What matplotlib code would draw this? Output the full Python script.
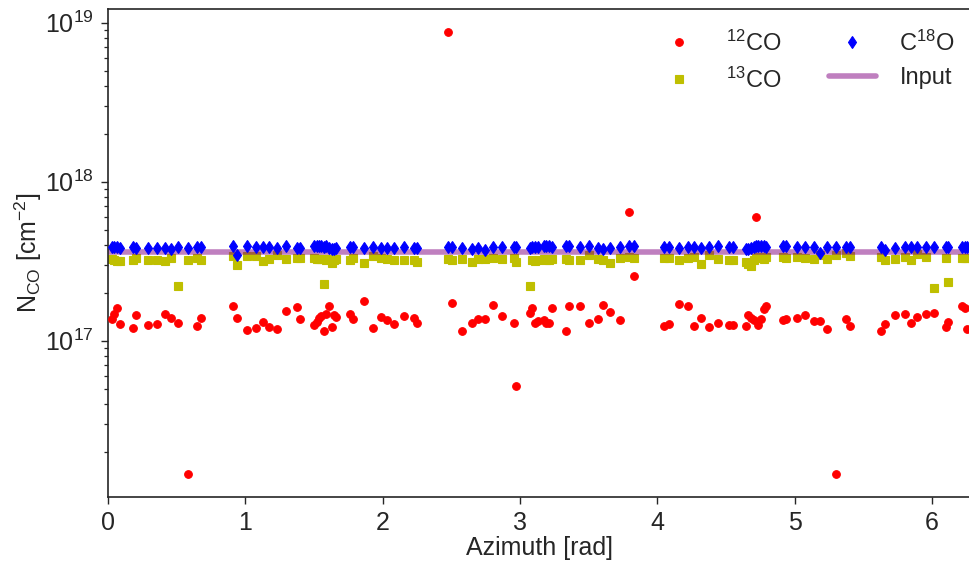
import numpy as np
import matplotlib
matplotlib.use("Agg")
import matplotlib.pyplot as plt
import seaborn as sns

sns.set_theme(style="ticks", context="talk")
plt.rcParams["font.family"] = ["Liberation Sans", "DejaVu Sans"]
plt.rcParams["mathtext.default"] = "regular"
plt.rcParams["axes.linewidth"] = 1.2
plt.rcParams["axes.edgecolor"] = "#262626"
for ax_ in ("xtick", "ytick"):
    plt.rcParams[f"{ax_}.major.size"] = 5
    plt.rcParams[f"{ax_}.minor.size"] = 3
    plt.rcParams[f"{ax_}.major.width"] = 1.0
    plt.rcParams[f"{ax_}.minor.width"] = 0.9
    plt.rcParams[f"{ax_}.labelsize"] = 18
    plt.rcParams[f"{ax_}.major.pad"] = 5

SCALE = 1e17  # values below are in units of 1e17 cm^-2

azimuth = [
    0.027, 0.044, 0.065, 0.087, 0.184, 0.206, 0.289, 0.354, 0.417, 0.458,
    0.507, 0.580, 0.650, 0.679, 0.907, 0.936, 1.009, 1.079, 1.125, 1.169,
    1.232, 1.295, 1.379, 1.396, 1.500, 1.518, 1.537, 1.554, 1.573, 1.590,
    1.610, 1.627, 1.646, 1.663, 1.760, 1.784, 1.864, 1.927, 1.990, 2.034,
    2.080, 2.153, 2.228, 2.252, 2.475, 2.505, 2.580, 2.652, 2.693, 2.742,
    2.802, 2.868, 2.953, 2.972, 3.069, 3.089, 3.108, 3.130, 3.173, 3.190,
    3.210, 3.234, 3.336, 3.353, 3.438, 3.500, 3.566, 3.607, 3.656, 3.724,
    3.796, 3.828, 4.051, 4.082, 4.155, 4.225, 4.269, 4.318, 4.378, 4.444,
    4.524, 4.548, 4.645, 4.662, 4.681, 4.700, 4.718, 4.735, 4.754, 4.773,
    4.790, 4.911, 4.936, 5.015, 5.072, 5.137, 5.185, 5.231, 5.299, 5.372,
    5.401, 5.631, 5.658, 5.729, 5.801, 5.845, 5.893, 5.954, 6.017, 6.104,
    6.119, 6.221, 6.237, 6.255,
]

co12 = [
    1.36, 1.47, 1.61, 1.27, 1.20, 1.46, 1.26, 1.27, 1.48, 1.39,
    1.30, 0.145, 1.24, 1.38, 1.66, 1.38, 1.17, 1.20, 1.31, 1.22,
    1.19, 1.54, 1.64, 1.37, 1.26, 1.32, 1.39, 1.42, 1.15, 1.48,
    1.65, 1.22, 1.46, 1.40, 1.48, 1.37, 1.78, 1.20, 1.40, 1.35,
    1.27, 1.44, 1.38, 1.29, 87.0, 1.72, 1.15, 1.30, 1.37, 1.36,
    1.68, 1.43, 1.30, 0.52, 1.49, 1.60, 1.30, 1.33, 1.35, 1.30,
    1.30, 1.60, 1.15, 1.66, 1.66, 1.30, 1.37, 1.68, 1.52, 1.34,
    6.45, 2.55, 1.24, 1.27, 1.70, 1.66, 1.24, 1.39, 1.22, 1.30,
    1.26, 1.26, 1.23, 1.46, 1.39, 1.34, 6.00, 1.26, 1.37, 1.58,
    1.66, 1.34, 1.37, 1.39, 1.46, 1.33, 1.33, 1.19, 0.145, 1.37,
    1.24, 1.15, 1.27, 1.46, 1.48, 1.30, 1.40, 1.47, 1.50, 1.22,
    1.31, 1.66, 1.60, 1.19,
]

co13 = [
    3.28, 3.20, 3.17, 3.17, 3.23, 3.30, 3.23, 3.23, 3.17, 3.31,
    2.22, 3.21, 3.33, 3.23, 3.40, 3.00, 3.40, 3.40, 3.17, 3.28,
    3.47, 3.28, 3.31, 3.31, 3.31, 3.28, 3.28, 3.28, 2.26, 3.23,
    3.25, 3.08, 3.23, 3.28, 3.23, 3.31, 3.10, 3.40, 3.31, 3.28,
    3.23, 3.20, 3.23, 3.14, 3.28, 3.23, 3.28, 3.14, 3.28, 3.28,
    3.31, 3.28, 3.31, 3.14, 2.20, 3.23, 3.17, 3.23, 3.28, 3.23,
    3.23, 3.28, 3.28, 3.23, 3.21, 3.45, 3.28, 3.23, 3.10, 3.31,
    3.35, 3.31, 3.31, 3.31, 3.23, 3.31, 3.35, 3.05, 3.45, 3.28,
    3.23, 3.23, 3.14, 3.05, 2.95, 3.20, 3.31, 3.35, 3.35, 3.28,
    3.35, 3.35, 3.31, 3.35, 3.31, 3.28, 3.45, 3.28, 3.47, 3.55,
    3.40, 3.35, 3.20, 3.28, 3.38, 3.23, 3.50, 3.35, 2.14, 3.31,
    2.34, 3.31, 3.31, 3.31,
]

c18o = [
    3.90, 3.88, 3.88, 3.85, 3.90, 3.82, 3.85, 3.85, 3.85, 3.78,
    3.90, 3.82, 3.88, 3.88, 3.92, 3.45, 3.92, 3.88, 3.88, 3.88,
    3.85, 3.92, 3.85, 3.85, 3.92, 3.95, 3.92, 3.95, 3.90, 3.92,
    3.85, 3.80, 3.80, 3.85, 3.88, 3.88, 3.85, 3.90, 3.82, 3.85,
    3.82, 3.88, 3.85, 3.82, 3.90, 3.88, 3.85, 3.80, 3.82, 3.70,
    3.90, 3.90, 3.88, 3.88, 3.85, 3.88, 3.88, 3.90, 3.92, 3.92,
    3.92, 3.90, 3.92, 3.92, 3.88, 3.95, 3.85, 3.75, 3.85, 3.90,
    3.92, 3.92, 3.90, 3.90, 3.85, 3.90, 3.88, 3.82, 3.88, 3.92,
    3.88, 3.88, 3.75, 3.80, 3.85, 3.90, 3.95, 3.95, 3.92, 3.92,
    3.90, 3.92, 3.92, 3.88, 3.90, 3.88, 3.55, 3.88, 3.88, 3.90,
    3.90, 3.88, 3.70, 3.85, 3.88, 3.88, 3.88, 3.88, 3.88, 3.90,
    3.90, 3.90, 3.90, 3.88,
]

input_value = 3.6  # units of 1e17
x_limits = [0.0, 2 * np.pi]
y_limits = [1.04e16, 1.22e19]

az = np.array(azimuth)
fig = plt.figure(figsize=(9.69, 5.62), dpi=100)
ax = fig.add_axes([0.1115, 0.1157, 0.8906, 0.8683])

ax.plot(x_limits, [input_value * SCALE] * 2, color="purple", alpha=0.5, lw=4,
        label="Input", zorder=2.5)
ax.plot(az, np.array(co12) * SCALE, "o", color="#ff0000", ms=5.5, mew=0.8,
        label="$^{12}$CO", zorder=3)
ax.plot(az, np.array(co13) * SCALE, "s", color="#bfbf00", ms=5.5, mew=0.8,
        label="$^{13}$CO", zorder=2)
ax.plot(az, np.array(c18o) * SCALE, "d", color="#0000ff", ms=6.5, mew=0.8,
        label="C$^{18}$O", zorder=3)

ax.set_yscale("log")
ax.set_xlim(*x_limits)
ax.set_ylim(*y_limits)
ax.set_xlabel("Azimuth [rad]", fontsize=18, labelpad=1)
ax.set_ylabel("N$_{CO}$ [cm$^{-2}$]", fontsize=18, labelpad=1)

h, l = ax.get_legend_handles_labels()
order = [1, 2, 3, 0]
ax.legend([h[i] for i in order], [l[i] for i in order], ncol=2,
          loc="upper right", frameon=False, fontsize=17,
          bbox_to_anchor=(1.006, 1.0), handletextpad=1.0)

fig.savefig("out.png", dpi=100)
